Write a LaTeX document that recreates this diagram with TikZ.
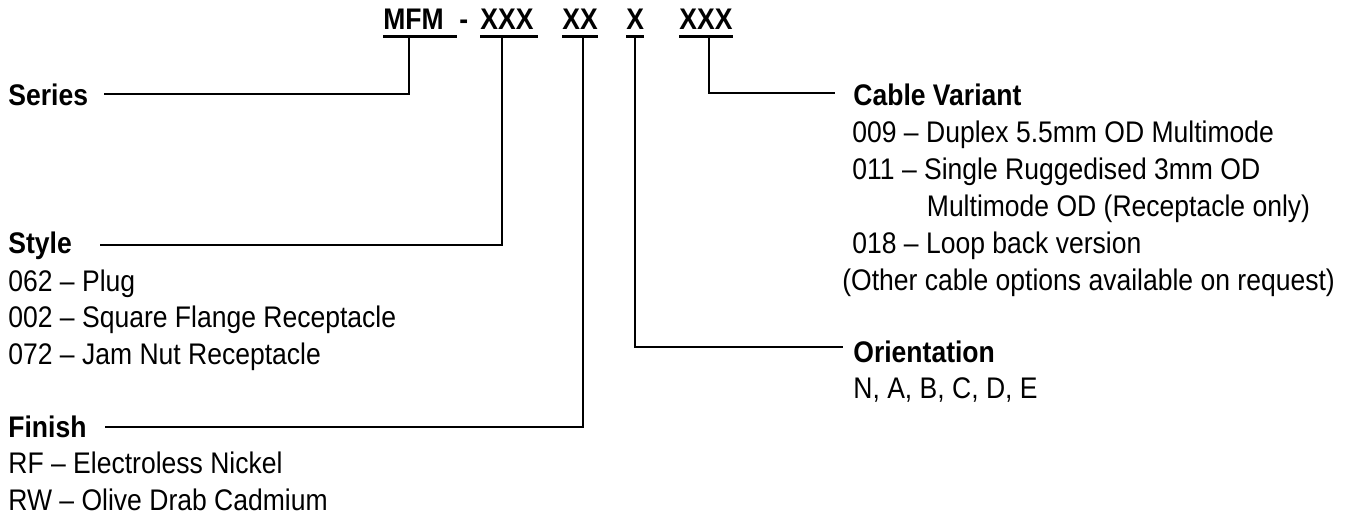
\documentclass[tikz,border=0pt]{standalone}
\usepackage{fontspec}
\setmainfont{Liberation Sans}[FakeStretch=0.89]
\usepackage{tikz}
\usetikzlibrary{positioning}

\newcommand{\pnsize}{\fontsize{14.9pt}{18pt}\selectfont}

\tikzset{
  code/.style={font=\pnsize\bfseries, inner sep=0pt, anchor=base west},
  field/.style={font=\pnsize\bfseries, inner sep=0pt, anchor=base west},
  option/.style={font=\pnsize, inner sep=0pt, anchor=base west},
  lead/.style={black, line width=1pt},
  uline/.style={black, line width=1.4pt}
}

\begin{document}
\begin{tikzpicture}[x=0.5pt, y=-0.5pt]
\useasboundingbox (0,0) rectangle (1350,516);

% --- Part number ---
\node[code] (mfm) at (383,29) {MFM};
\node[code] (dash) at (459,29) {-};
\node[code] (pstyle) at (480,29) {XXX};
\node[code] (pfinish) at (562,29) {XX};
\node[code] (porient) at (626,29) {X};
\node[code] (pcable) at (679,29) {XXX};

% underlines
\draw[uline] ([yshift=-3.9pt]mfm.base west) -- ([xshift=6.5pt,yshift=-3.9pt]mfm.base east);
\draw[uline] ([yshift=-3.9pt]pstyle.base west) -- ([xshift=2pt,yshift=-3.9pt]pstyle.base east);
\draw[uline] ([yshift=-3.9pt]pfinish.base west) -- ([yshift=-3.9pt]pfinish.base east);
\draw[uline] ([yshift=-3.9pt]porient.base west) -- ([yshift=-3.9pt]porient.base east);
\draw[uline] ([yshift=-3.9pt]pcable.base west) -- ([yshift=-3.9pt]pcable.base east);

% --- Series ---
\coordinate (series-end) at (104,93.5);
\node[field] (series) at (8,105) {Series};
\draw[lead] ([xshift=-2.4pt,yshift=-4pt]mfm.base) |- (series-end);

% --- Style ---
\coordinate (style-end) at (100,245);
\node[field] (style) at (8,253) {Style};
\node[option] (style-1) at (8,291.5) {062 – Plug};
\node[option] (style-2) at (8,327.7) {002 – Square Flange Receptacle};
\node[option] (style-3) at (8,364) {072 – Jam Nut Receptacle};
\draw[lead] ([xshift=-2.4pt,yshift=-4pt]pstyle.base) |- (style-end);

% --- Finish ---
\coordinate (finish-end) at (105,427);
\node[field] (finish) at (8,437) {Finish};
\node[option] (finish-1) at (8,473.5) {RF – Electroless Nickel};
\node[option] (finish-2) at (8,510.5) {RW – Olive Drab Cadmium};
\draw[lead] ([xshift=1.6pt,yshift=-4pt]pfinish.base) |- (finish-end);

% --- Orientation ---
\coordinate (orient-end) at (843,347);
\node[field] (orient) at (853,362) {Orientation};
\node[option] (orient-1) at (853,398) {N, A, B, C, D, E};
\draw[lead] ([yshift=-4pt]porient.base) |- (orient-end);

% --- Cable variant ---
\coordinate (cable-end) at (835,93.3);
\node[field] (cable) at (853,105) {Cable Variant};
\node[option] (cable-1) at (852,142) {009 – Duplex 5.5mm OD Multimode};
\node[option] (cable-2) at (852,179) {011 – Single Ruggedised 3mm OD};
\node[option] (cable-2b) at (926.5,216) {Multimode OD (Receptacle only)};
\node[option] (cable-3) at (852,253) {018 – Loop back version};
\node[option] (cable-4) at (842,290) {(Other cable options available on request)};
\draw[lead] ([xshift=1.75pt,yshift=-4pt]pcable.base) |- (cable-end);

\end{tikzpicture}
\end{document}
